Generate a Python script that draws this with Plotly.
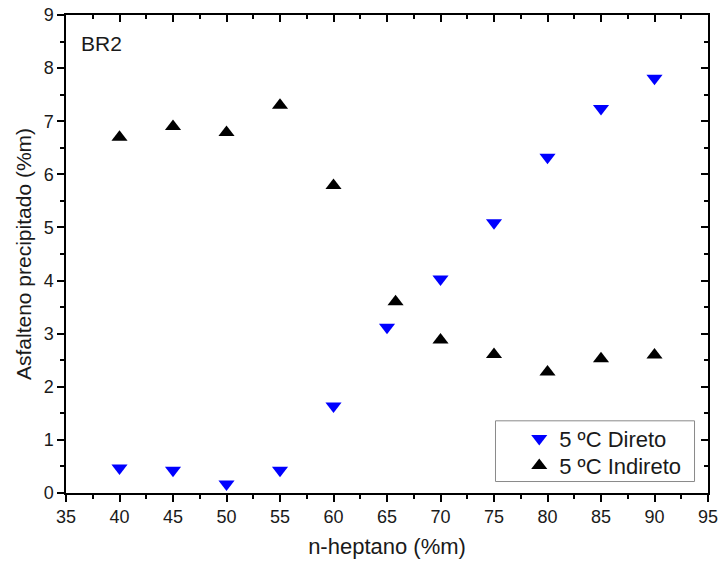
import plotly.graph_objects as go

# n-heptane content (%m) and precipitated asphaltene (%m)
x_direto = [40, 45, 50, 55, 60, 65, 70, 75, 80, 85, 90]
y_direto = [0.47, 0.43, 0.17, 0.43, 1.64, 3.12, 4.03, 5.09, 6.32, 7.24, 7.81]

x_indireto = [40, 45, 50, 55, 60, 65.8, 70, 75, 80, 85, 90]
y_indireto = [6.70, 6.90, 6.79, 7.30, 5.79, 3.60, 2.88, 2.61, 2.28, 2.53, 2.60]

x_range = [35, 95]
y_range = [0, 9]
x_ticks = [35, 40, 45, 50, 55, 60, 65, 70, 75, 80, 85, 90, 95]
y_ticks = [0, 1, 2, 3, 4, 5, 6, 7, 8, 9]

FONT = "Liberation Sans, Arial, sans-serif"
TEXT = "#1a1a1a"

fig = go.Figure()
fig.add_trace(go.Scatter(
    x=x_direto, y=y_direto, mode="markers", name="5 ºC Direto",
    marker=dict(symbol="triangle-down", size=14, color="#0000ff"),
    legend="legend",
))
fig.add_trace(go.Scatter(
    x=x_indireto, y=y_indireto, mode="markers", name="5 ºC Indireto",
    marker=dict(symbol="triangle-up", size=14, color="#000000"),
    legend="legend2",
))
# empty trace that activates the mirrored top/right axes
fig.add_trace(go.Scatter(x=[], y=[], xaxis="x2", yaxis="y2", showlegend=False,
                         hoverinfo="skip"))

axis_common = dict(showgrid=False, zeroline=False, showline=True,
                   linecolor="black", linewidth=1.5, tickcolor="black",
                   tickwidth=1.5, ticklen=7, automargin=False)

legend_common = dict(xanchor="left", yanchor="middle",
                     bgcolor="rgba(0,0,0,0)", borderwidth=0,
                     font=dict(size=22, family=FONT, color=TEXT),
                     itemwidth=30)

fig.update_layout(
    width=722, height=567,
    margin=dict(l=66, r=14, t=15, b=74, autoexpand=False),
    paper_bgcolor="white", plot_bgcolor="white",
    font=dict(family=FONT, size=18, color=TEXT),
    xaxis=dict(range=x_range, tickvals=x_ticks, ticks="outside",
               minor=dict(ticks="outside", dtick=2.5, ticklen=4,
                          tickcolor="black", tickwidth=1.5),
               title=dict(text="n-heptano (%m)", font=dict(size=22), standoff=12),
               **axis_common),
    yaxis=dict(range=y_range, tickvals=y_ticks, ticks="outside",
               minor=dict(ticks="outside", dtick=0.5, ticklen=4,
                          tickcolor="black", tickwidth=1.5),
               title=dict(text="Asfalteno precipitado (%m)", font=dict(size=21),
                          standoff=6),
               **axis_common),
    xaxis2=dict(range=x_range, tickvals=x_ticks, ticks="inside", overlaying="x",
                side="top", anchor="y", showticklabels=False,
                minor=dict(ticks="inside", dtick=2.5, ticklen=4,
                           tickcolor="black", tickwidth=1.5),
                **axis_common),
    yaxis2=dict(range=y_range, tickvals=y_ticks, ticks="inside", overlaying="y",
                side="right", anchor="x", showticklabels=False,
                minor=dict(ticks="inside", dtick=0.5, ticklen=4,
                           tickcolor="black", tickwidth=1.5),
                **axis_common),
    legend=dict(x=0.706, y=0.1135, **legend_common),
    legend2=dict(x=0.706, y=0.057, **legend_common),
    showlegend=True,
)

# legend frame
fig.add_shape(type="rect", xref="paper", yref="paper",
              x0=0.669, x1=0.979, y0=0.024, y1=0.151,
              line=dict(color="#8a8a8a", width=1), fillcolor="white",
              layer="below")

fig.add_annotation(text="BR2", x=0.021, y=0.968, xref="paper", yref="paper",
                   xanchor="left", yanchor="top", showarrow=False,
                   font=dict(size=21, family=FONT, color=TEXT))

fig.write_html("out.html")
